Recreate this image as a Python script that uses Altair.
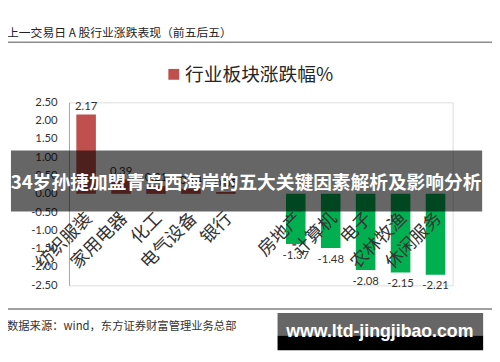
import altair as alt
import pandas as pd

# ---- data ----
categories = ["纺织服装", "家用电器", "化工", "电气设备", "银行", " ", "房地产", "计算机", "电子", "农林牧渔", "休闲服务"]
values = [2.17, 0.39, 0.21, 0.14, 0.05, None, -1.37, -1.48, -2.08, -2.15, -2.21]
y_ticks = [2.5, 2.0, 1.5, 1.0, 0.5, 0.0, -0.5, -1.0, -1.5, -2.0, -2.5]

title_text = "上一交易日 A 股行业涨跌表现（前五后五）"
legend_text = "行业板块涨跌幅%"
banner_text = "34岁孙捷加盟青岛西海岸的五大关键因素解析及影响分析"
source_text = "数据来源：wind，东方证券财富管理业务总部"
watermark_text = "www.ltd-jingjibao.com"

RED = "#c0504d"
GREEN = "#00b050"
CJK = "Noto Sans CJK SC"
NUM = "Lato"

rows = [{"cat": c, "val": v} for c, v in zip(categories, values)]
df = pd.DataFrame(rows)
bars_df = df.dropna()
one = pd.DataFrame({"k": [0]})

xscale = alt.Scale(domain=categories, paddingInner=0.44, paddingOuter=0.21)
yscale = alt.Scale(domain=[-2.5, 2.5], nice=False)
y_axis = alt.Axis(values=y_ticks, title=None, grid=False,
                  labelExpr="replace(format(datum.value, '.2f'), '\u2212', '-')",
                  ticks=False, labelFontSize=11.5, labelFont=NUM,
                  labelColor="#333333", labelPadding=12,
                  labelOverlap=False, labelBound=False, labelFlush=False,
                  domainColor="#a6a6a6", domainWidth=1)

x_enc = alt.X("cat:N", scale=xscale, axis=None, sort=categories)
y_enc = alt.Y("val:Q", scale=yscale, axis=y_axis)

bars = alt.Chart(bars_df).mark_bar().encode(
    x=x_enc,
    y=y_enc,
    y2=alt.datum(0),
    color=alt.condition("datum.val >= 0", alt.value(RED), alt.value(GREEN)),
)

lbl_calc = "replace(format(datum.val, '.2f'), '\u2212', '-')"

pos_labels = alt.Chart(bars_df).transform_filter("datum.val >= 0").transform_calculate(
    lbl=lbl_calc
).mark_text(
    baseline="bottom", dy=-3, fontSize=11.5, font=NUM, color="#333333"
).encode(x=x_enc, y=y_enc, text="lbl:N")

neg_labels = alt.Chart(bars_df).transform_filter("datum.val < 0").transform_calculate(
    lbl=lbl_calc
).mark_text(
    baseline="top", dy=6, fontSize=11.5, font=NUM, color="#333333"
).encode(x=x_enc, y=y_enc, text="lbl:N")

cat_labels = alt.Chart(bars_df).mark_text(
    angle=315, align="right", baseline="middle", fontSize=18, font=CJK,
    color="#333333", dx=5
).encode(x=x_enc, y=alt.value(119), text="cat:N")

def rect(x1, x2, y1, y2, color, opacity=1.0):
    return alt.Chart(one).mark_rect(color=color, opacity=opacity).encode(
        x=alt.value(x1), x2=alt.value(x2), y=alt.value(y1), y2=alt.value(y2))

def label(text, x, y, size, font, color, weight="normal", align="left"):
    return alt.Chart(one).mark_text(
        text=text, fontSize=size, font=font, color=color, fontWeight=weight,
        align=align, baseline="middle"
    ).encode(x=alt.value(x), y=alt.value(y))

def hline(x1, x2, y, color, width):
    return alt.Chart(one).mark_rule(color=color, strokeWidth=width).encode(
        x=alt.value(x1), x2=alt.value(x2), y=alt.value(y))

title = label(title_text, -63, -70, 12, CJK, "#222222")
title_rule = hline(-70, 440, -61, "#8c8c8c", 1.5)
legend_sq = rect(101, 112, -34, -23, RED)
legend_lbl = label(legend_text, 118, -28, 19, CJK, "#262626")

banner = rect(-59, 420, 49, 111, "#000000", 0.6)
banner_lbl = label(banner_text, 180, 82, 19, CJK, "#ffffff", weight="bold", align="center")

bottom_rule = hline(-70, 440, 210, "#7f7f7f", 1.5)
source = label(source_text, -63, 228, 11.5, CJK, "#333333")

wm_top = rect(212, 421, 214, 237, "#666666")
wm_bot = rect(212, 421, 237, 252, "#000000")
wm_lbl = label(watermark_text, 316, 234, 18, "Liberation Sans", "#ffffff", weight="bold", align="center")

chart = alt.layer(
    bars, pos_labels, neg_labels, cat_labels,
    title, title_rule, legend_sq, legend_lbl,
    banner, banner_lbl, bottom_rule, source, wm_top, wm_bot, wm_lbl
).properties(
    width=390, height=186,
    autosize=alt.AutoSizeParams(type="none"),
    padding={"left": 62, "top": 93, "right": 40, "bottom": 75},
).configure_view(stroke=None).configure(background="#ffffff")

chart.save("out.html", embed_options={"renderer": "svg", "actions": False})
